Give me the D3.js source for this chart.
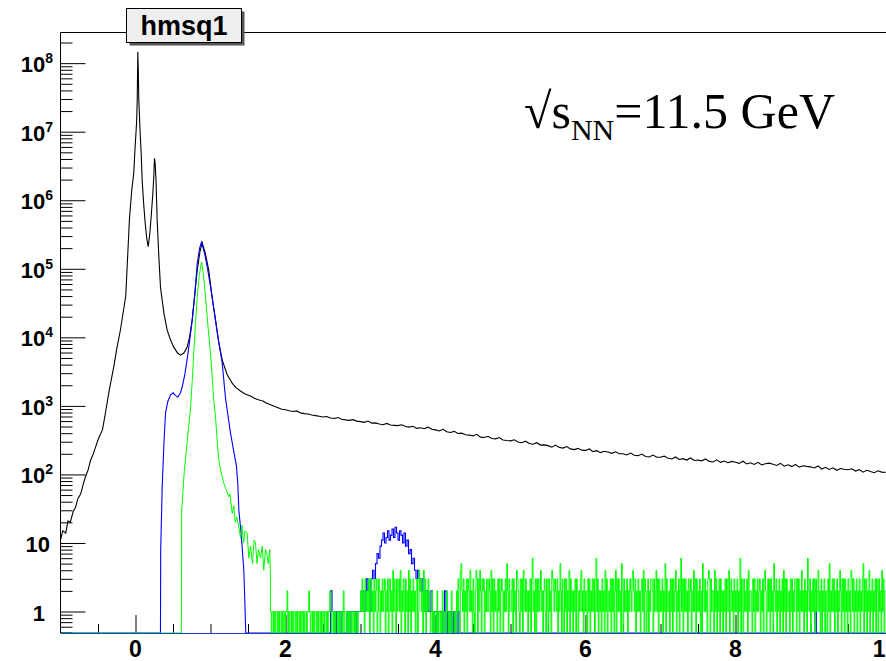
<!DOCTYPE html>
<html>
<head>
<meta charset="utf-8">
<script src="https://cdn.jsdelivr.net/npm/d3@7"></script>
<style>
  body { margin: 0; background: #fff; }
</style>
</head>
<body>
<div id="chart-area"></div>
<script>
// ---- data (m^2 in GeV^2, counts) ----

// black: all tracks, peak region as points
var blackM2 = [-1.00, -0.97, -0.93, -0.90, -0.87, -0.83, -0.80, -0.77, -0.73, -0.70,
  -0.67, -0.63, -0.60, -0.57, -0.53, -0.50, -0.44, -0.40, -0.35, -0.29,
  -0.25, -0.20, -0.13, -0.08, -0.05, -0.023, -0.009, 0.015, 0.023, 0.031,
  0.037, 0.044, 0.060, 0.076, 0.089, 0.11, 0.13, 0.15, 0.169, 0.19,
  0.21, 0.23, 0.244, 0.253, 0.262, 0.273, 0.289, 0.31, 0.333, 0.38,
  0.423, 0.47, 0.511, 0.56, 0.60, 0.645, 0.689, 0.72, 0.756, 0.79,
  0.823, 0.86, 0.889, 0.93, 0.977, 1.02, 1.067, 1.11, 1.156, 1.22,
  1.289, 1.34, 1.40, 1.45, 1.489, 1.54, 1.58, 1.62, 1.667];
var blackCounts = [11, 15, 14, 21, 20, 29, 33, 44, 52, 70,
  91, 118, 160, 190, 255, 320, 450, 800, 1700, 3700,
  6800, 13000, 40000, 5.5e5, 1.4e6, 2.5e6, 5e6, 1.4e7, 2.9e7, 1.45e8,
  8e7, 2.9e7, 1.1e7, 4.8e6, 1.95e6, 8.5e5, 4.5e5, 2.8e5, 2.1e5, 3.2e5,
  6e5, 1.2e6, 2.2e6, 4.1e6, 3.5e6, 2.0e6, 5.1e5, 1.6e5, 5.4e4, 2.2e4,
  1.26e4, 9000, 7200, 5900, 5500, 5900, 7200, 10000, 1.78e4, 4.2e4,
  9.5e4, 1.8e5, 2.4e5, 1.7e5, 9.5e4, 4e4, 1.78e4, 8500, 4700, 2900,
  2140, 1850, 1650, 1520, 1450, 1380, 1300, 1250, 1200];

// black tail, bins of 0.05 starting at 1.70
var blackTailStart = 1.70, blackTailWidth = 0.05;
var blackTail = [1180, 1090, 1040, 985, 940, 895,
  880, 850, 830, 845, 790, 770, 760, 735, 720, 705,
  690, 700, 665, 655, 675, 640, 625, 615, 630, 600,
  590, 575, 600, 560, 565, 545, 530, 555, 525, 520,
  515, 530, 500, 490, 505, 470, 480, 465, 490, 455,
  447, 430, 455, 420, 410, 425, 395, 400, 380, 375,
  365, 385, 350, 345, 360, 335, 330, 345, 318, 312,
  309, 320, 298, 290, 305, 282, 276, 290, 268, 270,
  263, 250, 268, 248, 242, 255, 236, 230, 240, 226,
  224, 235, 215, 222, 208, 218, 212, 203, 214, 200,
  200, 192, 205, 190, 188, 198, 183, 180, 192, 178,
  178, 185, 172, 168, 180, 165, 170, 162, 174, 160,
  162, 158, 168, 155, 152, 163, 150, 157, 148, 155,
  151, 145, 156, 142, 148, 140, 150, 138, 143, 146,
  141, 135, 145, 132, 138, 130, 140, 128, 134, 131,
  129, 124, 133, 120, 127, 118, 125, 115, 122, 119,
  117, 121, 112, 118, 108, 115, 110, 106, 113, 108,
  107];

// blue
var blueM2 = [-1.0, 0.333, 0.336, 0.356, 0.38, 0.40, 0.43, 0.467, 0.502, 0.53,
  0.564, 0.60, 0.623, 0.656, 0.689, 0.72, 0.756, 0.79, 0.823, 0.855,
  0.88, 0.92, 0.956, 1.00, 1.044, 1.10, 1.156, 1.20, 1.235, 1.267,
  1.30, 1.347, 1.365, 1.378, 1.40, 1.422, 1.444, 1.457, 1.47];
var blueCounts = [0, 0, 8, 66, 300, 780, 1150, 1450, 1550, 1420,
  1350, 1550, 1900, 2800, 4800, 8500, 1.8e4, 4.2e4, 1.2e5, 2.0e5,
  2.45e5, 1.7e5, 1.07e5, 5.5e4, 2.6e4, 1.0e4, 4200, 1300, 700, 400,
  250, 130, 70, 30, 17, 8.7, 4, 1.5, 0];
var blueNoiseStart = 2.60, blueNoiseWidth = 0.02;
var blueNoise = [2, 1, 1, 0, 1, 1, 0, 1, 0,
  0, 0, 1, 0, 1, 1, 1, 1, 0, 1, 1,
  1, 2, 1, 2, 3, 2, 1, 3, 4, 3,
  5, 7, 6, 9, 11, 14, 10, 12, 15, 11,
  13, 16, 12, 17, 14, 11, 15, 13, 10, 14,
  9, 11, 7, 8, 5, 6, 4, 3, 4, 3,
  2, 3, 2, 1, 2, 1, 1, 2, 0, 1,
  1, 0, 1, 1, 0, 1, 2, 0, 1, 0,
  1, 0, 1, 0, 0, 1, 0, 0, 0, 0];
var blueSpikeM2 = [9.06];
var blueSpikeCounts = [1];

// green
var greenM2 = [-1.0, 0.612, 0.616, 0.65, 0.689, 0.71, 0.733, 0.755, 0.777, 0.80,
  0.823, 0.85, 0.88, 0.905, 0.933, 0.965, 1.0, 1.044, 1.067, 1.09,
  1.11, 1.14, 1.178, 1.21, 1.244, 1.26, 1.289, 1.31, 1.33, 1.35,
  1.378, 1.40, 1.42, 1.44, 1.46, 1.489, 1.51, 1.533, 1.56, 1.58,
  1.60, 1.62, 1.64, 1.667, 1.69, 1.71, 1.733, 1.75, 1.77, 1.79, 1.80];
var greenCounts = [0, 0, 30, 110, 300, 520, 900, 2200, 5900, 1.6e4,
  3.9e4, 8e4, 1.26e5, 8.5e4, 3.9e4, 1.5e4, 5900, 1200, 690, 300,
  162, 110, 74, 60, 47, 52, 27, 35, 20, 24,
  17, 12, 18, 10, 15, 14, 6, 9, 5, 11,
  10, 5, 8, 6, 9, 4, 8, 7, 5, 8, 3];
// green low-count region, bins of 0.01 from 1.80 to 10.00, one digit per bin
var greenNoiseStart = 1.80, greenNoiseWidth = 0.01;
var greenNoise = [
  "10110101101011010110" + "11201011010110101101" + "0110101101",   // 1.80
  "12101101011010110101" + "10110101121011010110" + "1010110210",   // 2.30
  "01101011011010110111" + "21312032121302312031" + "2301320213",   // 2.80
  "12302130231204132031" + "23140213203120413021" + "3120230142",   // 3.30
  "31204130213210120101" + "10201101021011021010" + "1201101021",   // 3.80
  "3104521302" + "1303214120" + "3102430314" + "2032302131" + "1320413031", // 4.30
  "2103130232" + "0213152031" + "1230312043" + "2103130421" + "3120213036", // 4.80
  "1203031312" + "4120231031" + "0312043213" + "2130215203" + "1031302140", // 5.30
  "3120213032" + "0213412031" + "2103130213" + "1302613021" + "2031204130", // 5.80
  "1213031302" + "4031312052" + "0312130213" + "2134213021" + "3120231403", // 6.30
  "2013021332" + "0312413031" + "2130215031" + "1203130312" + "4021302613", // 6.80
  "0313120312" + "3021413031" + "2130205213" + "1203430312" + "2041302130", // 7.30
  "3120213031" + "1402312031" + "2130216031" + "0312130412" + "2103130213", // 7.80
  "1230213034" + "2013130312" + "0521302130" + "2130413031" + "1203130213", // 8.30
  "3031302141" + "2031206213" + "0213130312" + "4120302130" + "2103150213", // 8.80
  "1302130214" + "2031303120" + "3120431302" + "1302130213" + "5031302140", // 9.30
  "2130213032" + "0312041302"                                              // 9.80
];

var xTickLabels = [0, 2, 4, 6, 8, 10];
var yTickLabels = [1, 10, 1e2, 1e3, 1e4, 1e5, 1e6, 1e7, 1e8];

// ---- layout ----
var W = 886, H = 661;
var frame = { left: 60.5, right: 885.5, top: 32.5, bottom: 633 };

var svg = d3.select("#chart-area")
  .append("svg")
    .attr("width", W)
    .attr("height", H);

var x = d3.scaleLinear()
  .domain([-1, 10])
  .range([frame.left, frame.right]);

var y = d3.scaleLog()
  .domain([0.486, 2.8e8])
  .range([frame.bottom, frame.top]);

var yv = function(v) { return v > 0 ? y(v) : frame.bottom; };

svg.append("defs").append("clipPath")
    .attr("id", "clip")
  .append("rect")
    .attr("x", frame.left)
    .attr("y", frame.top - 1)
    .attr("width", frame.right - frame.left + 1)
    .attr("height", frame.bottom - frame.top + 1);

// Y axis (ticks inside the frame)
var yAxis = svg.append("g")
  .attr("class", "y axis")
  .attr("transform", "translate(" + frame.left + ",0)")
  .call(d3.axisLeft(y)
    .tickValues(y.ticks().filter(function(t) { return t >= 0.5; }))
    .tickSize(-12)
    .tickFormat(""));
yAxis.select(".domain").remove();
yAxis.selectAll(".tick line")
  .attr("stroke", "#000")
  .attr("x2", function(d) {
    return Math.abs(Math.log10(d) - Math.round(Math.log10(d))) < 1e-9 ? 25 : 12;
  });

// Y labels
var yLab = svg.append("g")
  .attr("font-family", "'Liberation Sans', Arial, sans-serif")
  .attr("font-weight", "bold");
yTickLabels.forEach(function(v) {
  var p = Math.round(Math.log10(v));
  var t = yLab.append("text")
    .attr("y", y(v) + 9)
    .attr("text-anchor", "end")
    .attr("font-size", "22px");
  if (p === 0) {
    t.attr("x", 45).text("1");
  } else if (p === 1) {
    t.attr("x", 50).text("10");
  } else {
    t.attr("x", 53);
    t.append("tspan").text("10");
    t.append("tspan").attr("font-size", "14px").attr("dy", -9).text(p);
  }
});

// X axis (ticks inside the frame)
var xAxis = svg.append("g")
  .attr("class", "x axis")
  .attr("transform", "translate(0," + frame.bottom + ")")
  .call(d3.axisBottom(x)
    .tickValues(d3.range(-0.5, 10, 0.5))
    .tickSize(-9)
    .tickFormat(""));
xAxis.select(".domain").remove();
xAxis.selectAll(".tick line")
  .attr("stroke", "#000")
  .attr("y2", function(d) { return xTickLabels.indexOf(d) >= 0 ? -18 : -9; });

svg.append("g")
  .attr("font-family", "'Liberation Sans', Arial, sans-serif")
  .attr("font-weight", "bold")
  .attr("font-size", "23px")
  .attr("text-anchor", "middle")
  .selectAll("text")
  .data(xTickLabels)
  .enter().append("text")
    .attr("x", function(d) { return x(d); })
    .attr("y", 657)
    .text(function(d) { return d; });

// ---- histograms ----
var pairs = function(ms, cs) { return ms.map(function(m, i) { return [m, cs[i]]; }); };
var steps = function(start, w, vals) {
  var pts = [];
  vals.forEach(function(v, i) {
    pts.push([start + i * w, v]);
    pts.push([start + (i + 1) * w, v]);
  });
  return pts;
};

var blackPts = pairs(blackM2, blackCounts).concat(
  blackTail.map(function(v, i) { return [blackTailStart + i * blackTailWidth, v]; }));

var bluePts = pairs(blueM2, blueCounts)
  .concat([[blueNoiseStart, 0]])
  .concat(steps(blueNoiseStart, blueNoiseWidth, blueNoise))
  .concat([[blueNoiseStart + blueNoise.length * blueNoiseWidth, 0], [blueSpikeM2[0], 0]])
  .concat(steps(blueSpikeM2[0], 0.02, blueSpikeCounts))
  .concat([[blueSpikeM2[0] + 0.02, 0], [10, 0]]);

var greenDigits = greenNoise.join("").split("").map(Number);
var greenPts = pairs(greenM2, greenCounts)
  .concat(steps(greenNoiseStart, greenNoiseWidth, greenDigits));

var line = d3.line()
  .x(function(d) { return x(d[0]); })
  .y(function(d) { return yv(d[1]); });

var plot = svg.append("g").attr("clip-path", "url(#clip)");

plot.append("path")
  .datum(blackPts)
  .attr("fill", "none")
  .attr("stroke", "#000")
  .attr("stroke-width", 1.1)
  .attr("d", line);

plot.append("path")
  .datum(bluePts)
  .attr("fill", "none")
  .attr("stroke", "#0000ff")
  .attr("stroke-width", 1.1)
  .attr("d", line);

plot.append("path")
  .datum(greenPts)
  .attr("fill", "none")
  .attr("stroke", "#00ff00")
  .attr("stroke-width", 1)
  .attr("d", line);

// ---- frame ----
svg.append("path")
  .attr("fill", "none")
  .attr("stroke", "#000")
  .attr("d", "M" + frame.left + "," + frame.bottom + "V" + frame.top + "H" + W);
svg.append("line")
  .attr("x1", frame.left).attr("x2", W)
  .attr("y1", frame.bottom + 0.5).attr("y2", frame.bottom + 0.5)
  .attr("stroke", "#2040c0")
  .attr("stroke-width", 1);

// ---- title box ----
svg.append("rect")
  .attr("x", 129.5).attr("y", 11.5)
  .attr("width", 115).attr("height", 34)
  .attr("fill", "#555");
svg.append("rect")
  .attr("x", 126.5).attr("y", 8.5)
  .attr("width", 115).attr("height", 34)
  .attr("fill", "#efefef")
  .attr("stroke", "#000");
svg.append("text")
  .attr("x", 184).attr("y", 35)
  .attr("text-anchor", "middle")
  .attr("font-family", "'Liberation Sans', Arial, sans-serif")
  .attr("font-weight", "bold")
  .attr("font-size", "27px")
  .text("hmsq1");

// ---- energy label ----
var lab = svg.append("text")
  .attr("x", 524).attr("y", 128)
  .attr("font-family", "'Liberation Serif', 'Times New Roman', serif")
  .attr("font-size", "50px");
lab.append("tspan").text("\u221As");
lab.append("tspan").attr("font-size", "30px").attr("dy", 12).text("NN");
lab.append("tspan").attr("dy", -12).text("=11.5 GeV");
</script>
</body>
</html>
